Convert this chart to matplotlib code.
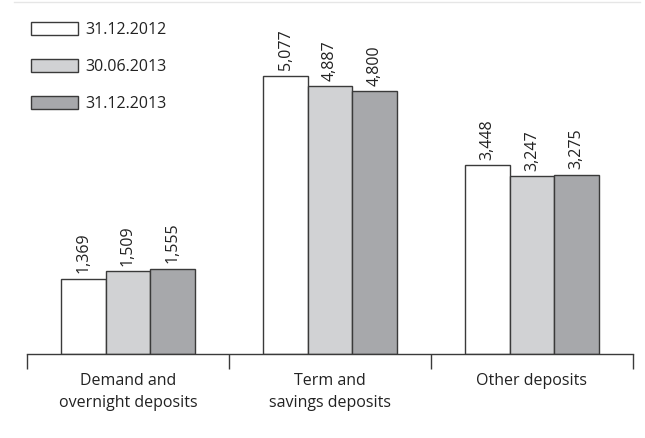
import matplotlib
matplotlib.use("Agg")
import matplotlib.pyplot as plt
import numpy as np
from matplotlib.lines import Line2D

plt.rcParams['font.family'] = ['Open Sans', 'DejaVu Sans']

categories = ["Demand and\novernight deposits", "Term and\nsavings deposits", "Other deposits"]
series_names = ["31.12.2012", "30.06.2013", "31.12.2013"]
values = {
    "31.12.2012": [1369, 5077, 3448],
    "30.06.2013": [1509, 4887, 3247],
    "31.12.2013": [1555, 4800, 3275],
}
colors = ["#ffffff", "#d1d2d4", "#a7a8ab"]

fig = plt.figure(figsize=(6.45, 4.38), dpi=100)
ax = fig.add_axes([27/645, 84/438, 606/645, 334/438])

x = np.arange(len(categories))
w = 0.22
offsets = [-w, 0, w]
handles = []
for i, name in enumerate(series_names):
    vals = values[name]
    bars = ax.bar(x + offsets[i], vals, width=w, color=colors[i], edgecolor="#3a3a3a",
                  linewidth=1.0, label=name)
    handles.append(bars)
    for xi, v in zip(x + offsets[i], vals):
        ax.annotate(f"{v:,}", (xi, v), xytext=(0, 4), textcoords="offset points",
                    rotation=90, ha="center", va="bottom", fontsize=11.5, color="#222222")

ax.set_xlim(-0.5, 2.5)
ax.set_ylim(0, 6100)
for s in ["top", "right", "left"]:
    ax.spines[s].set_visible(False)
ax.spines["bottom"].set_color("#3a3a3a")
ax.spines["bottom"].set_linewidth(1.0)
ax.set_yticks([])
ax.set_xticks([-0.5, 0.5, 1.5, 2.5])
ax.set_xticklabels([])
ax.tick_params(axis="x", which="major", length=11, width=1.0, color="#3a3a3a", direction="out")
ax.set_xticks(x, minor=True)
ax.set_xticklabels(categories, minor=True, fontsize=11.5, color="#222222", linespacing=1.45)
ax.tick_params(axis="x", which="minor", length=0, pad=14)

leg = fig.legend(handles=handles, labels=series_names, loc="upper left",
                 bbox_to_anchor=(17/645, 1 - 8/438), frameon=False, fontsize=11.5,
                 handlelength=2.9, handleheight=0.85, labelspacing=1.3, handletextpad=0.45,
                 labelcolor="#222222")

fig.add_artist(Line2D([14/645, 640/645], [1 - 2/438, 1 - 2/438], color="#e6e6e6", linewidth=1.0))

fig.savefig("out.png", dpi=100)
